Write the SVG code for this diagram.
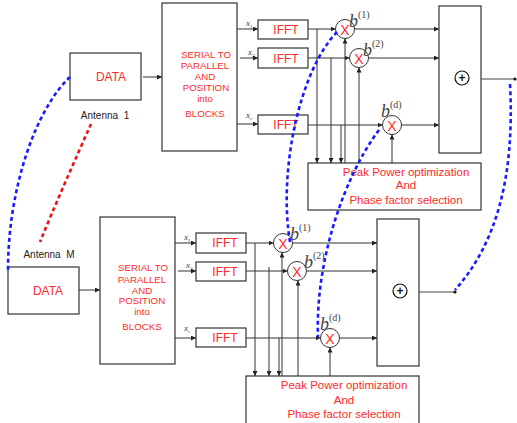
<svg xmlns="http://www.w3.org/2000/svg" width="517" height="423" viewBox="0 0 517 423">
<defs>
<marker id="ah" viewBox="0 0 6 6" refX="6" refY="3" markerWidth="5" markerHeight="5" orient="auto" markerUnits="userSpaceOnUse">
<path d="M0,0 L6,3 L0,6 z" fill="#222"/>
</marker>
<style>
.box{fill:#fff;stroke:#333;stroke-width:1.2}
.ln{fill:none;stroke:#444;stroke-width:1}
.ar{fill:none;stroke:#333;stroke-width:1;marker-end:url(#ah)}
.red{font-family:"Liberation Sans",Arial,sans-serif;fill:#ff2a2a;text-anchor:middle}
.blk{font-family:"Liberation Sans",Arial,sans-serif;fill:#222;text-anchor:middle;font-size:10px}
.xs{font-family:"Liberation Serif",serif;font-style:italic;fill:#444;font-size:9px}
.bs{font-family:"Liberation Serif",serif;fill:#444}
.blue{fill:none;stroke:#1a1aff;stroke-width:2.6;stroke-dasharray:4 3}
.rdot{fill:none;stroke:#ee1111;stroke-width:2.6;stroke-dasharray:4 3}
</style>
</defs>

<!-- TOP SECTION -->
<g id="data1"><rect class="box" x="70" y="53" width="71" height="47"/><text class="red" x="111" y="81" font-size="12">DATA</text></g>
<g id="ant1"><text class="blk" x="105" y="119" xml:space="preserve">Antenna  1</text></g>
<g id="sp1"><rect class="box" x="162" y="3" width="75" height="148"/>
<text class="red" font-size="9.7"><tspan x="206" y="58">SERIAL TO</tspan><tspan x="205" y="69">PARALLEL</tspan><tspan x="205" y="80">AND</tspan><tspan x="206" y="91">POSITION</tspan><tspan x="205" y="102">into</tspan><tspan x="205" y="117">BLOCKS</tspan></text></g>
<g id="ifft1a"><rect class="box" x="258" y="20" width="50" height="19"/><text class="red" x="286" y="34" font-size="12">IFFT</text></g>
<g id="ifft1b"><rect class="box" x="258" y="48" width="50" height="20"/><text class="red" x="286" y="63" font-size="12">IFFT</text></g>
<g id="ifft1c"><rect class="box" x="258" y="115" width="50" height="19"/><text class="red" x="286" y="129" font-size="12">IFFT</text></g>
<g id="m1a"><circle cx="345" cy="29" r="9.5" fill="#fff" stroke="#333"/><text class="red" x="345" y="34.5" font-size="14">X</text><text class="bs" x="349" y="27" font-size="18" font-style="italic">b</text><text class="bs" x="358" y="18" font-size="10">(1)</text></g>
<g id="m1b"><circle cx="359" cy="58" r="9.5" fill="#fff" stroke="#333"/><text class="red" x="359" y="63.5" font-size="14">X</text><text class="bs" x="363" y="56" font-size="18" font-style="italic">b</text><text class="bs" x="372" y="47" font-size="10">(2)</text></g>
<g id="m1c"><circle cx="392" cy="125" r="9.5" fill="#fff" stroke="#333"/><text class="red" x="392" y="130.5" font-size="14">X</text><text class="bs" x="381" y="117" font-size="18" font-style="italic">b</text><text class="bs" x="390" y="108" font-size="10">(d)</text></g>
<g id="sum1"><rect class="box" x="439" y="6" width="42" height="147"/><circle cx="462" cy="78" r="7" fill="#fff" stroke="#111" stroke-width="1.2"/><text x="462" y="82" font-family="Liberation Sans,sans-serif" font-weight="bold" font-size="12" text-anchor="middle" fill="#111">+</text></g>
<g id="peak1"><rect class="box" x="308" y="163" width="173" height="47"/>
<text class="red" font-size="11.5"><tspan x="406" y="176">Peak Power optimization</tspan><tspan x="406" y="189">And</tspan><tspan x="406" y="204">Phase factor selection</tspan></text></g>

<!-- BOTTOM SECTION -->
<g id="ant2"><text class="blk" x="49" y="258" xml:space="preserve">Antenna  M</text></g>
<g id="data2"><rect class="box" x="8" y="267" width="71" height="47"/><text class="red" x="48" y="295" font-size="12">DATA</text></g>
<g id="sp2"><rect class="box" x="100" y="217" width="75" height="147"/>
<text class="red" font-size="9.7"><tspan x="143" y="271">SERIAL TO</tspan><tspan x="142" y="283">PARALLEL</tspan><tspan x="142" y="294">AND</tspan><tspan x="142" y="304">POSITION</tspan><tspan x="142" y="315">into</tspan><tspan x="142" y="330">BLOCKS</tspan></text></g>
<g id="ifft2a"><rect class="box" x="196" y="233" width="50" height="20"/><text class="red" x="225" y="247" font-size="12">IFFT</text></g>
<g id="ifft2b"><rect class="box" x="196" y="262" width="50" height="19"/><text class="red" x="225" y="276" font-size="12">IFFT</text></g>
<g id="ifft2c"><rect class="box" x="196" y="328" width="50" height="19"/><text class="red" x="225" y="342" font-size="12">IFFT</text></g>
<g id="m2a"><circle cx="283" cy="243" r="9.5" fill="#fff" stroke="#333"/><text class="red" x="283" y="248.5" font-size="14">X</text><text class="bs" x="290" y="240" font-size="18" font-style="italic">b</text><text class="bs" x="299" y="231" font-size="10">(1)</text></g>
<g id="m2b"><circle cx="297" cy="271" r="9.5" fill="#fff" stroke="#333"/><text class="red" x="297" y="276.5" font-size="14">X</text><text class="bs" x="304" y="268" font-size="18" font-style="italic">b</text><text class="bs" x="313" y="259" font-size="10">(2)</text></g>
<g id="m2c"><circle cx="330" cy="338" r="9.5" fill="#fff" stroke="#333"/><text class="red" x="330" y="343.5" font-size="14">X</text><text class="bs" x="320" y="330" font-size="18" font-style="italic">b</text><text class="bs" x="329" y="321" font-size="10">(d)</text></g>
<g id="sum2"><rect class="box" x="377" y="219" width="42" height="147"/><circle cx="400" cy="291" r="7" fill="#fff" stroke="#111" stroke-width="1.2"/><text x="400" y="295" font-family="Liberation Sans,sans-serif" font-weight="bold" font-size="12" text-anchor="middle" fill="#111">+</text></g>
<g id="peak2"><rect class="box" x="246" y="376" width="173" height="50"/>
<text class="red" font-size="11.5"><tspan x="344" y="389">Peak Power optimization</tspan><tspan x="344" y="404">And</tspan><tspan x="344" y="418">Phase factor selection</tspan></text></g>

<!-- subscript labels -->
<g id="xlabels">
<text class="xs" x="246" y="26">x<tspan font-size="5" dy="2">1</tspan></text>
<text class="xs" x="248" y="55">x<tspan font-size="5" dy="2">2</tspan></text>
<text class="xs" x="246" y="118">x<tspan font-size="5" dy="2">v</tspan></text>
<text class="xs" x="184" y="240">x<tspan font-size="5" dy="2">1</tspan></text>
<text class="xs" x="186" y="268">x<tspan font-size="5" dy="2">2</tspan></text>
<text class="xs" x="184" y="331">x<tspan font-size="5" dy="2">v</tspan></text>
</g>

<g id="connectors">
<!-- top -->
<line class="ar" x1="143" y1="77" x2="162" y2="77"/>
<line class="ar" x1="237" y1="29" x2="258" y2="29"/>
<line class="ar" x1="240" y1="58" x2="258" y2="58"/>
<line class="ar" x1="237" y1="124" x2="258" y2="124"/>
<line class="ar" x1="308" y1="29" x2="335.5" y2="29"/>
<line class="ar" x1="308" y1="58" x2="349.5" y2="58"/>
<line class="ar" x1="308" y1="125" x2="382.5" y2="125"/>
<line class="ar" x1="317" y1="29" x2="317" y2="163"/>
<line class="ar" x1="331" y1="58" x2="331" y2="163"/>
<line class="ar" x1="341" y1="125" x2="341" y2="163"/>
<line class="ar" x1="345" y1="163" x2="345" y2="38.5"/>
<line class="ar" x1="359" y1="163" x2="359" y2="67.5"/>
<line class="ar" x1="392" y1="163" x2="392" y2="134.5"/>
<line class="ar" x1="354.5" y1="29" x2="439" y2="29"/>
<line class="ar" x1="368.5" y1="58" x2="439" y2="58"/>
<line class="ar" x1="401.5" y1="125" x2="439" y2="125"/>
<line class="ln" x1="481" y1="79" x2="515" y2="79"/>
<circle cx="515" cy="79" r="1.6" fill="#111"/>
<!-- bottom -->
<line class="ar" x1="79" y1="290" x2="100" y2="290"/>
<line class="ar" x1="175" y1="243" x2="196" y2="243"/>
<line class="ar" x1="178" y1="271" x2="196" y2="271"/>
<line class="ar" x1="175" y1="338" x2="196" y2="338"/>
<line class="ar" x1="246" y1="243" x2="273.5" y2="243"/>
<line class="ar" x1="246" y1="271" x2="287.5" y2="271"/>
<line class="ar" x1="246" y1="338" x2="320.5" y2="338"/>
<line class="ar" x1="255" y1="243" x2="255" y2="376"/>
<line class="ar" x1="269" y1="267" x2="269" y2="376"/>
<line class="ar" x1="279" y1="338" x2="279" y2="376"/>
<line class="ar" x1="282" y1="376" x2="282" y2="252.5"/>
<line class="ar" x1="298" y1="376" x2="298" y2="280.5"/>
<line class="ar" x1="330" y1="376" x2="330" y2="347.5"/>
<line class="ar" x1="292.5" y1="243" x2="377" y2="243"/>
<line class="ar" x1="306.5" y1="271" x2="377" y2="271"/>
<line class="ar" x1="339.5" y1="338" x2="377" y2="338"/>
<line class="ln" x1="419" y1="292" x2="455" y2="292"/>
<circle cx="455" cy="292" r="1.6" fill="#111"/>
<!-- dotted antenna links -->
<path class="blue" d="M70,77 C35,110 8,190 8,270"/>
<path class="rdot" d="M91,124 C75,160 55,205 40,242"/>
<path class="blue" d="M337,32 C300,70 278,170 290,242"/>
<path class="blue" d="M379,130 C345,175 315,260 318,337"/>
<path class="blue" d="M510,84 C515,180 495,245 455,290"/>
</g>
</svg>
